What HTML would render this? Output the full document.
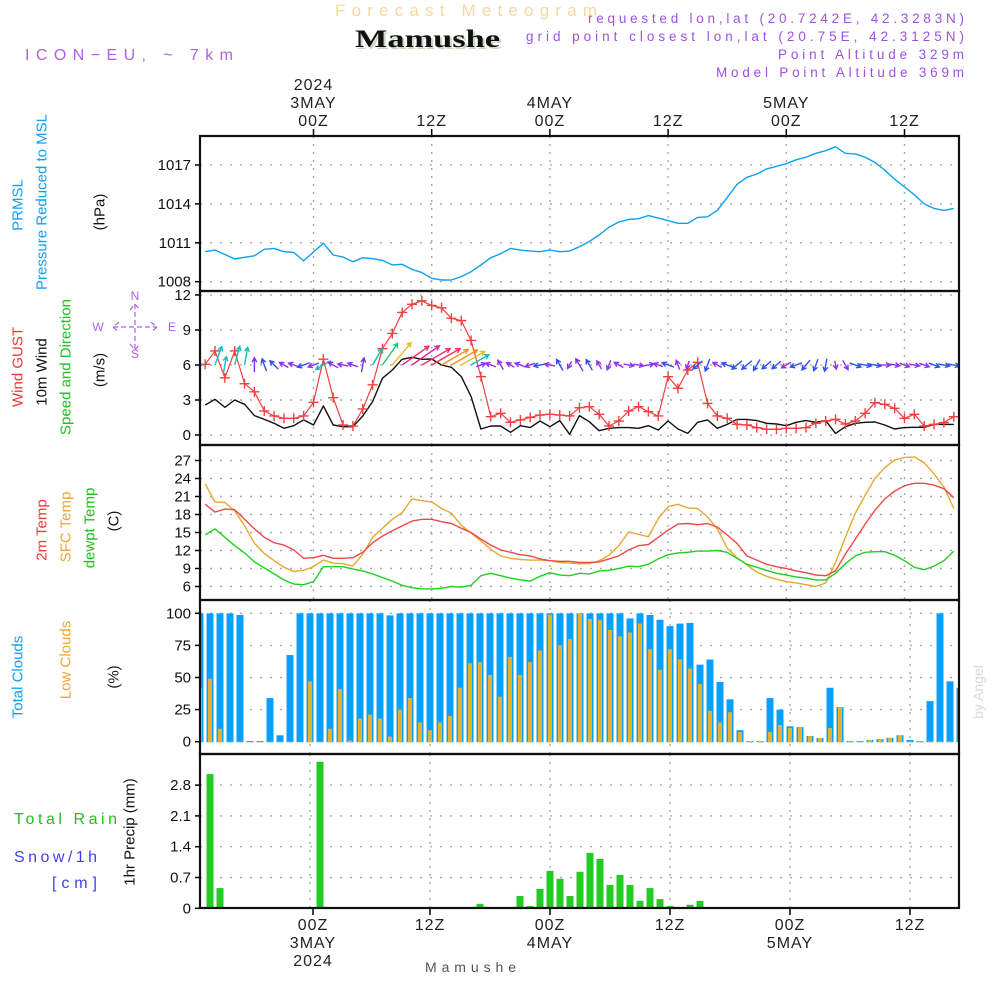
<!DOCTYPE html>
<html><head><meta charset="utf-8"><style>
body{margin:0;background:#fff}
svg{display:block;font-family:"Liberation Sans",sans-serif}
</style></head><body>
<svg id="chart" width="1000" height="1000" viewBox="0 0 1000 1000" xmlns="http://www.w3.org/2000/svg">
<g>
<text x="335" y="16" textLength="262" lengthAdjust="spacing" font-size="17" fill="#f5d8a0">Forecast Meteogram</text>
<text x="357" y="49" textLength="145" lengthAdjust="spacingAndGlyphs" font-family="Liberation Serif,serif" font-weight="bold" font-size="25" fill="#c8d8c0">Mamushe</text>
<text x="355" y="47" textLength="145" lengthAdjust="spacingAndGlyphs" font-family="Liberation Serif,serif" font-weight="bold" font-size="25" fill="#111">Mamushe</text>
<text x="25" y="60" textLength="208" lengthAdjust="spacing" font-size="16" fill="#b060e8">ICON−EU, ~ 7km</text>
<g font-size="13.5" fill="#a050e0">
<text x="588" y="23" textLength="376" lengthAdjust="spacing">requested lon,lat (20.7242E, 42.3283N)</text>
<text x="526" y="41" textLength="438" lengthAdjust="spacing">grid point closest lon,lat (20.75E, 42.3125N)</text>
<text x="778" y="59" textLength="186" lengthAdjust="spacing">Point Altitude 329m</text>
<text x="716" y="77" textLength="248" lengthAdjust="spacing">Model Point Altitude 369m</text>
</g>
</g>
<g id="grid"></g>
<g id="marks"></g>
<g id="frames"></g>
<g id="labels"></g>
</svg>
<script>
// ---- data (hourly, t = -11 .. 65 hours from 00Z 3MAY) ----
const startHour = -11;
const pressure = [1010.31,1010.44,1010.1,1009.75,1009.88,1010.0,1010.5,1010.57,1010.31,1010.26,1009.6,1010.3,1010.96,1010.06,1009.9,1009.54,1009.85,1009.77,1009.65,1009.29,1009.34,1008.95,1008.7,1008.26,1008.13,1008.13,1008.39,1008.77,1009.29,1009.85,1010.16,1010.57,1010.44,1010.36,1010.31,1010.44,1010.31,1010.36,1010.7,
1011.1,1011.6,1012.2,1012.6,1012.8,1012.86,1013.1,1012.9,1012.7,1012.5,1012.5,1012.96,1013.0,1013.5,1014.5,1015.5,1016.05,1016.3,1016.7,1016.9,1017.1,1017.4,1017.6,1017.9,1018.1,1018.4,1017.9,1017.85,1017.6,1017.2,1016.6,1015.9,1015.3,1014.7,1014.0,1013.65,1013.5,1013.65];
const gust = [6.06,7.2,4.9,7.2,4.4,3.7,2.06,1.63,1.43,1.43,1.63,2.8,6.5,3.2,0.86,0.77,2.23,4.3,7.4,8.7,10.5,11.2,11.5,11.1,10.9,10.0,9.8,8.1,5.0,1.57,1.86,1.09,1.29,1.51,1.71,1.77,1.71,1.63,2.34,
2.43,1.77,0.77,1.2,2.06,2.43,2.0,1.63,5.0,4.0,5.57,6.23,2.71,1.63,1.43,0.91,0.86,0.63,0.49,0.49,0.57,0.57,0.63,1.0,1.2,1.34,0.94,1.2,1.86,2.77,2.63,2.29,1.43,1.77,0.77,0.91,1.06,1.57];
const wind10m = [2.57,3.06,2.37,3.0,2.63,1.66,1.34,1.0,0.57,0.8,1.29,0.86,2.49,0.86,0.71,0.71,1.63,2.86,4.86,5.57,6.49,6.66,6.49,6.51,6.0,5.8,5.0,3.29,0.51,0.77,0.77,0.23,0.8,0.63,1.2,0.71,1.23,0.06,1.66,
1.14,0.37,0.57,0.63,0.63,0.57,0.8,0.43,1.2,0.51,0.14,1.09,1.29,0.57,0.91,1.34,1.34,1.23,1.0,0.94,0.8,1.09,1.23,1.09,1.23,0.14,0.71,1.0,1.09,1.11,0.86,0.51,0.63,0.66,0.66,0.91,0.91,0.91];
const windDir = [270,20,10,15,10,0,340,315,300,290,250,250,240,300,280,290,10,30,35,40,55,55,60,60,60,60,60,60,70,290,330,300,290,250,260,280,330,210,330,
330,330,200,300,100,100,80,290,290,340,200,230,200,300,290,230,230,210,230,230,240,250,220,200,190,170,150,110,100,100,90,100,110,100,110,110,100,100];
const temp2m = [19.7,18.4,18.9,18.8,17.2,15.6,14.2,13.3,12.9,12.1,10.7,10.8,11.2,10.7,10.7,10.8,11.7,13.3,14.4,15.3,16.1,16.9,17.2,17.2,16.8,16.5,15.7,15.0,13.9,12.9,12.1,11.7,11.3,11.1,10.6,10.3,10.2,10.2,10.0,
10.0,10.1,10.6,11.1,12.1,12.8,13.0,14.2,15.4,16.4,16.5,16.3,16.5,15.9,14.6,13.2,11.1,10.4,9.7,9.3,9.0,8.6,8.3,7.9,7.8,8.6,11.4,13.9,16.4,18.7,20.6,21.9,22.8,23.2,23.2,22.9,22.3,20.8];
const tempSfc = [23.1,20.1,20.0,18.6,16.1,13.2,11.5,10.3,9.2,8.5,8.7,9.3,10.4,9.9,9.8,9.4,11.4,14.2,15.7,17.2,18.3,20.6,20.3,20.1,19.0,18.2,16.2,14.9,13.6,12.2,11.1,10.7,10.5,10.4,10.4,10.3,10.0,9.9,9.8,
9.8,10.3,11.2,12.8,15.1,14.7,14.3,17.3,19.3,19.7,19.1,19.0,17.6,15.6,12.4,10.8,9.6,8.4,7.7,7.2,6.8,6.6,6.3,6.0,6.6,10.0,14.2,18.2,21.2,24.0,25.8,27.1,27.5,27.6,26.6,24.8,22.6,19.0];
const dewpt = [14.6,15.6,14.2,12.8,11.6,10.1,9.1,8.1,7.1,6.4,6.3,6.8,9.3,9.3,9.3,8.9,8.6,8.1,7.5,6.9,6.2,5.8,5.6,5.6,5.7,6.0,5.9,6.2,7.8,8.2,7.8,7.4,7.1,6.9,7.7,8.3,7.9,7.8,8.2,
8.1,8.6,8.7,9.0,9.4,9.3,9.7,10.6,11.3,11.6,11.7,11.9,11.9,12.0,11.7,10.7,9.7,9.2,8.7,8.2,7.9,7.6,7.4,7.1,7.1,8.2,9.8,11.1,11.7,11.8,11.8,11.2,10.3,9.2,8.8,9.4,10.3,11.9];
const totalClouds = [100,100,100,100,98.7,0.5,0.5,34,5,67.5,100,100,100,100,100,100,100,100,100,98.4,100,100,100,100,100,100,100,100,100,100,100,100,100,100,100,100,100,100,100,
100,100,100,100,96,100,98.7,95,90,92,92.5,60,64,46.5,33,9,0.5,0.5,34,25,12,11.4,4.4,2.9,42,27,0.5,0.5,1.3,2,3,5,1.3,0.5,31.6,100,47,42];
const lowClouds = [42,49,10,0,0,0,0,0,0,0,0,47,0,10,41,1,18,21,18,4,25,34,15,9,15,20,42,61,62,52,35,66,52,62,71,99,75,80,100,
95.6,95,87,82,85,92,72,56,72,64,57,45,24,15,23,7.5,0.5,0.5,7.5,13,10.6,11.4,4.4,2.9,10.6,27,0.3,0.3,1.3,2,3,5,0.3,0.3,0.3,0.3,0.3,0.5];
const precip = [0,3.05,0.46,0.03,0,0,0,0,0,0,0,0,3.33,0,0,0,0,0,0,0,0,0,0,0,0,0,0,0,0.1,0.03,0,0,0.28,0.05,0.44,0.85,0.67,0.28,0.83,
1.26,1.12,0.53,0.76,0.53,0.17,0.46,0.21,0.05,0.03,0.08,0.17,0,0,0,0,0,0,0,0,0,0,0,0,0,0,0,0,0,0,0,0,0,0,0,0,0,0];
const pressureTicks = [1008,1011,1014,1017];
const windTicks = [0,3,6,9,12];
const tempTicks = [6,9,12,15,18,21,24,27];
const cloudTicks = [0,25,50,75,100];
const precipTicks = [0,0.7,1.4,2.1,2.8];
const topTimeLabels = [["2024","3MAY","00Z"],["12Z"],["4MAY","00Z"],["12Z"],["5MAY","00Z"],["12Z"]];
const bottomTimeLabels = [["00Z","3MAY","2024"],["12Z"],["00Z","4MAY"],["12Z"],["00Z","5MAY"],["12Z"]];

// ---- axes ----
const X0 = 200, X1 = 959;
const xL = t => 313.5 + 9.85 * t;
const xB = t => 310 + 10 * t;
const yP = v => 281.7 - (v - 1008) * 12.97;
const yW = v => 435 - v * 11.67;
const yT = v => 586.5 - (v - 6) * 6;
const yC = v => 741.7 - v * 1.284;
const yR = v => 908.3 - v * 44;
const panels = [[136,291],[291,445],[445,600],[600,754],[754,908]];

const NS = "http://www.w3.org/2000/svg";
function mk(tag, attrs, parent){const e=document.createElementNS(NS,tag);for(const k in attrs)e.setAttribute(k,attrs[k]);parent.appendChild(e);return e;}
const G = document.getElementById('grid'), M = document.getElementById('marks'), F = document.getElementById('frames'), L = document.getElementById('labels');

const defs = mk('defs',{},document.getElementById('chart'));
const cp = mk('clipPath',{id:'plotclip'},defs);
mk('rect',{x:X0,y:136,width:X1-X0,height:772},cp);
M.setAttribute('clip-path','url(#plotclip)');

function hGrid(ticks, yf, name, fmt){
  ticks.forEach(v=>{
    const ln = mk('line',{x1:X0,x2:X1,y1:yf(v),y2:yf(v),stroke:'#aaa','stroke-dasharray':'2,8','stroke-width':1.4},G);
    
    
    const tk = mk('line',{x1:X0-5,x2:X0,y1:yf(v),y2:yf(v),stroke:'#000','stroke-width':1.5},G);
    
    
    const tx = mk('text',{x:191,y:yf(v)+5,'text-anchor':'end','font-size':15,fill:'#111'},L);
    tx.textContent = fmt ? fmt(v) : v;
    
    
  });
}
hGrid(pressureTicks,yP,'pressure-axis');
hGrid(windTicks,yW,'wind-axis');
hGrid(tempTicks,yT,'temp-axis');
hGrid(cloudTicks,yC,'cloud-axis');
hGrid(precipTicks,yR,'precip-axis',v=>v===0?'0':v.toFixed(1));

for(let k=0;k<6;k++){
  for(let p=0;p<5;p++){
    const xf = p<3 ? xL : xB;
    const x = xf(12*k);
    const ln = mk('line',{x1:x,x2:x,y1:panels[p][0],y2:panels[p][1],stroke:'#aaa','stroke-dasharray':'2,6','stroke-width':1.4},G);
    
    
  }
  const xt = xL(12*k);
  const t1 = mk('line',{x1:xt,x2:xt,y1:129,y2:136,stroke:'#000','stroke-width':1.5},G);
  
  
  const lines = topTimeLabels[k];
  lines.forEach((s,i)=>{
    const tx = mk('text',{x:xt,y:126-(lines.length-1-i)*18,'text-anchor':'middle','font-size':16,fill:'#222','letter-spacing':1},L);
    tx.textContent = s;
    
    
  });
  const xb = xB(12*k) + (k===0?3:0);
  const t2 = mk('line',{x1:xb,x2:xb,y1:908,y2:915,stroke:'#000','stroke-width':1.5},G);
  
  
  bottomTimeLabels[k].forEach((s,i)=>{
    const tx = mk('text',{x:xb,y:930+i*18,'text-anchor':'middle','font-size':16,fill:'#222','letter-spacing':1},L);
    tx.textContent = s;
    
    
  });
}

totalClouds.forEach((v,i)=>{
  const t = startHour + i;
  const r = mk('rect',{x:xB(t)-3.5,y:yC(v),width:7,height:yC(0)-yC(v)+0.5,fill:'#08a0ff'},M);
  
  
});
lowClouds.forEach((v,i)=>{
  const t = startHour + i;
  const r = mk('rect',{x:xB(t)-2,y:yC(v),width:4,height:yC(0)-yC(v)+0.5,fill:'#e8b030'},M);
  
  
});
precip.forEach((v,i)=>{
  const t = startHour + i;
  if(v<=0) return;
  const r = mk('rect',{x:xB(t)-3.5,y:yR(v),width:7,height:yR(0)-yR(v),fill:'#22cc22'},M);
  
  
});

function line(arr, yf, color, name, w){
  const pts = arr.map((v,i)=>xL(startHour+i).toFixed(1)+','+yf(v).toFixed(1)).join(' ');
  const pl = mk('polyline',{points:pts,fill:'none',stroke:color,'stroke-width':w||1.4,'stroke-linejoin':'round'},M);
  
  
}
line(pressure,yP,'#10a0f0','pressure-line');
line(wind10m,yW,'#111','wind-10m-line');
line(gust,yW,'#f04040','wind-gust-line',1.2);
gust.forEach((v,i)=>{
  const x = xL(startHour+i), y = yW(v);
  const p = mk('path',{d:`M${x-5},${y}H${x+5}M${x},${y-5}V${y+5}`,stroke:'#f04040','stroke-width':1.4},M);
  
  
});
line(tempSfc,yT,'#e8a830','sfc-temp-line');
line(temp2m,yT,'#f04848','temp-2m-line');
line(dewpt,yT,'#20d020','dewpoint-line');

function arrowColor(s){
  if(s<0.9) return '#9030f0';
  if(s<1.4) return '#3050f0';
  if(s<2.2) return '#8030e0';
  if(s<3.5) return '#10c0c0';
  if(s<5) return '#20c880';
  if(s<5.8) return '#e0c020';
  if(s<6.4) return '#f09020';
  if(s<6.55) return '#f03060';
  return '#e020a0';
}
windDir.forEach((d,i)=>{
  const s = wind10m[i];
  const x0 = xL(startHour+i), y0 = yW(6);
  const len = 8 + 3.8*s;
  const a = d*Math.PI/180;
  const dx = Math.sin(a), dy = -Math.cos(a);
  const long = s > 2.5;
  const sx = long ? x0 : x0 - dx*len/2, sy = long ? y0 : y0 - dy*len/2;
  const ex = sx + dx*len, ey = sy + dy*len;
  const h = 5, ang = 0.5;
  const b = Math.atan2(-dy,-dx);
  const hx1 = ex + h*Math.cos(b+ang), hy1 = ey + h*Math.sin(b+ang);
  const hx2 = ex + h*Math.cos(b-ang), hy2 = ey + h*Math.sin(b-ang);
  const p = mk('path',{d:`M${sx},${sy}L${ex},${ey}M${hx1},${hy1}L${ex},${ey}L${hx2},${hy2}`,stroke:arrowColor(s),'stroke-width':1.4,fill:'none'},M);
  
  
});

panels.forEach((p,i)=>{
  const r = mk('rect',{x:X0,y:p[0],width:X1-X0,height:p[1]-p[0],fill:'none',stroke:'#111','stroke-width':2.2},F);
  
  
});

function vtext(txt,x,y,color,name,size){
  const t = mk('text',{x:0,y:0,transform:`translate(${x},${y}) rotate(-90)`,'text-anchor':'middle','dominant-baseline':'central','font-size':size||15,fill:color},L);
  t.textContent = txt;
  
  
}
vtext('PRMSL',18,205,'#10a0f0','prmsl-label');
vtext('Pressure Reduced to MSL',42,202,'#10a0f0','pressure-title');
vtext('(hPa)',100,212,'#111','pressure-unit');
vtext('Wind GUST',18,367,'#f03838','gust-title');
vtext('10m Wind',42,372,'#111','wind-10m-title');
vtext('Speed and Direction',66,367,'#20c020','wind-direction-title');
vtext('(m/s)',100,370,'#111','wind-unit');
vtext('2m Temp',42,530,'#f03838','temp-2m-title');
vtext('SFC Temp',66,527,'#e8a830','sfc-temp-title');
vtext('dewpt Temp',90,528,'#20c020','dewpoint-title');
vtext('(C)',114,521,'#111','temp-unit');
vtext('Total Clouds',18,677,'#10a0f0','total-clouds-title');
vtext('Low Clouds',66,660,'#e8a830','low-clouds-title');
vtext('(%)',114,677,'#111','cloud-unit');
vtext('1hr Precip (mm)',130,832,'#111','precip-title');
vtext('by Angel',978,692,'#d8d8d8','watermark',14);

function htext(txt,x,y,color,name,size,len){
  const t = mk('text',{x:x,y:y,'font-size':size||15,fill:color},L);
  if(len){t.setAttribute('textLength',len);t.setAttribute('lengthAdjust','spacing');}
  t.textContent = txt;
  
  
}
htext('Total  Rain',14,824,'#20c020','rain-legend',16,103);
htext('Snow/1h',14,862,'#4040f0','snow-legend',16,83);
htext('[cm]',52,888,'#4040f0','snow-unit',16,45);
htext('Mamushe',425,972,'#555','footer-location',14,91);

const C = mk('g',{fill:'#b060e8','font-size':12,'text-anchor':'middle'},L);


[['N',135,300],['S',135,358],['W',98,331],['E',172,331]].forEach(a=>{
  const t = mk('text',{x:a[1],y:a[2]},C); t.textContent=a[0];
  
  
});
const cl = mk('path',{d:'M113,327H157M135,304V350M119,322L113,327L119,332M151,322L157,327L151,332M130,310L135,304L140,310M130,344L135,350L140,344',stroke:'#b060e8','stroke-width':1.2,fill:'none','stroke-dasharray':'5,3'},C);


</script>
</body></html>
